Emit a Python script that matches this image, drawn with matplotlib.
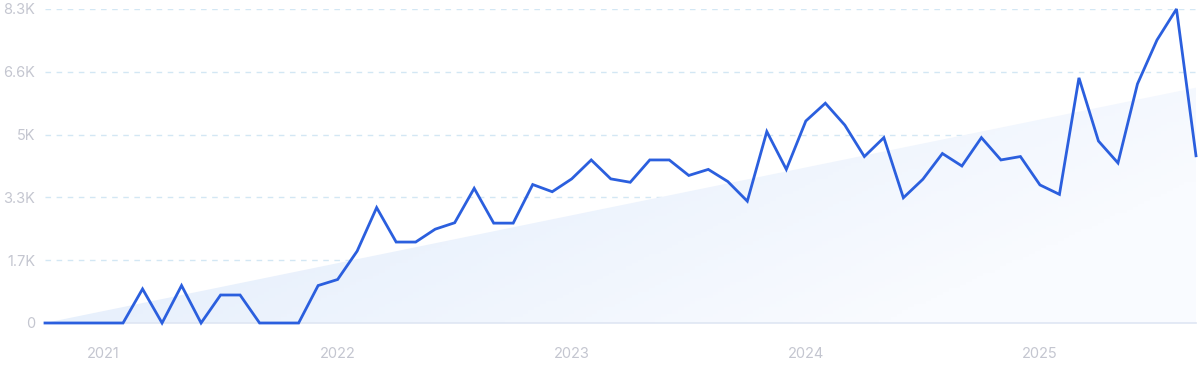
import numpy as np
import matplotlib
matplotlib.use("Agg")
import matplotlib.pyplot as plt
from matplotlib.patches import Polygon
from matplotlib.colors import LinearSegmentedColormap

plt.rcParams['font.family'] = ['Inter', 'DejaVu Sans']

# monthly values, Oct 2020 .. Sep 2025
values = [0, 0, 0, 0, 0, 900, 0, 990, 0, 740,
          740, 0, 0, 0, 990, 1150, 1900, 3050, 2140, 2140,
          2480, 2650, 3560, 2640, 2640, 3660, 3470, 3810, 4310, 3810,
          3720, 4310, 4310, 3900, 4060, 3740, 3220, 5060, 4060, 5340,
          5810, 5230, 4400, 4900, 3310, 3800, 4480, 4150, 4900, 4310,
          4400, 3650, 3400, 6480, 4810, 4230, 6320, 7480, 8300, 4420]
trend_start = 0
trend_end = 6220
year_labels = ["2021", "2022", "2023", "2024", "2025"]
year_idx = [3, 15, 27, 39, 51]
y_ticks = [0, 1660, 3320, 4980, 6640, 8300]
y_labels = ["0", "1.7K", "3.3K", "5K", "6.6K", "8.3K"]

x = np.arange(len(values))

fig = plt.figure(figsize=(12, 3.72), dpi=100)
ax = fig.add_axes([45 / 1200, 49 / 372, 1151 / 1200, 314 / 372])
ax.set_xlim(0, len(values) - 1)
ax.set_ylim(0, 8300)

# gradient trend triangle
cmap = LinearSegmentedColormap.from_list("fade", ["#d9e7fa", "#f9fbff"])
gx, gy = np.meshgrid(np.linspace(0, 1, 200), np.linspace(0, 1, 100))
grad = 0.75 * gx + 0.45 * (1 - gy)
img = ax.imshow(grad, cmap=cmap, aspect="auto", origin="lower",
                extent=[0, len(values) - 1, 0, 8300], zorder=1, vmin=0, vmax=1)
tri = Polygon([[0, trend_start], [len(values) - 1, trend_end], [len(values) - 1, 0]],
              closed=True, facecolor="none", edgecolor="none")
ax.add_patch(tri)
img.set_clip_path(tri)

for t in y_ticks[1:]:
    ax.axhline(t, color="#d3e7f4", lw=1, ls=(0, (4, 4)), zorder=0.5)

ax.plot(x, values, color="#2b5fde", lw=2.0, zorder=3, clip_on=False,
        solid_joinstyle="miter")

for s in ["top", "right", "left"]:
    ax.spines[s].set_visible(False)
ax.spines["bottom"].set_color("#dfe6f3")
ax.spines["bottom"].set_linewidth(1.2)

ax.set_yticks(y_ticks)
ax.set_yticklabels(y_labels)
ax.set_xticks(year_idx)
ax.set_xticklabels(year_labels)
ax.tick_params(axis="both", length=0, colors="#c4c6d0", labelsize=10.5)
ax.tick_params(axis="y", pad=7)
ax.tick_params(axis="x", pad=17)

fig.savefig("out.png", dpi=100)
